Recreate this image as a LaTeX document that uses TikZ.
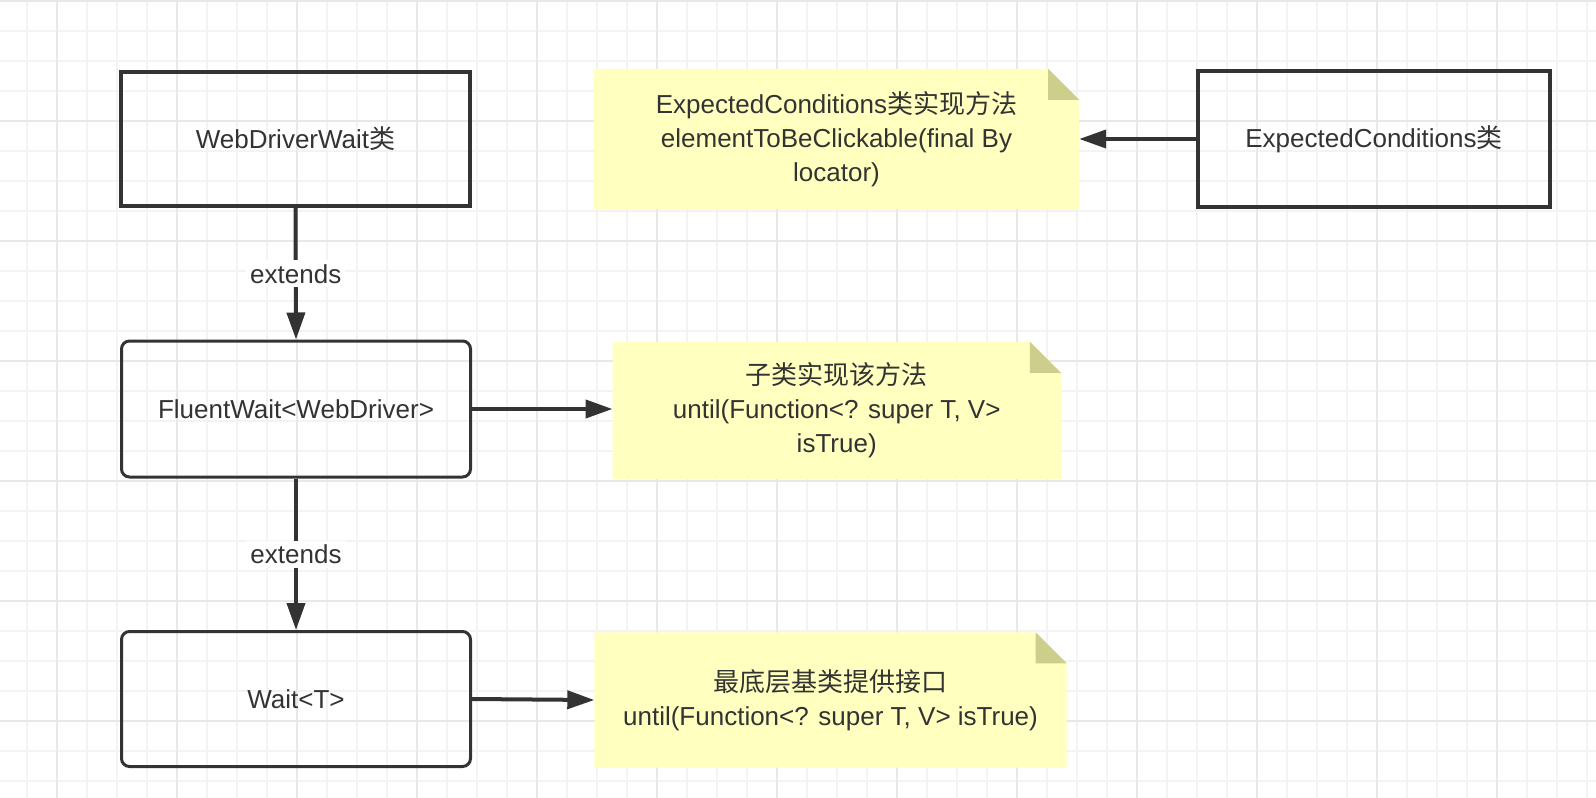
\documentclass[tikz,border=0pt]{standalone}
\usepackage{fontspec}
\setmainfont{Liberation Sans}
\newfontfamily\cjk{Noto Sans CJK SC}
\usetikzlibrary{arrows.meta,calc}
\definecolor{qqqqqq}{HTML}{333333}
\definecolor{ffffcc}{HTML}{FFFFC0}
\definecolor{cdcd8c}{HTML}{CDCD8C}
\definecolor{fofofo}{HTML}{F3F3F3}
\definecolor{eaeaea}{HTML}{E8E8E8}
\pgfdeclarelayer{bg}
\pgfsetlayers{bg,main}
\tikzset{
  classbox/.style={draw=qqqqqq,line width=4pt,minimum width=349pt,minimum height=134pt,
    text=qqqqqq,font=\fontsize{26}{34}\selectfont},
  roundbox/.style={classbox,line width=3pt,rounded corners=8pt},
  notebox/.style={text=qqqqqq,align=center,font=\fontsize{26}{34}\selectfont},
  link/.style={draw=qqqqqq,line width=4pt,-{Triangle[length=27pt,width=18pt]}},
  linklabel/.style={fill=white,text=qqqqqq,inner sep=4pt,font=\fontsize{26}{34}\selectfont},
}
% sticky note fill with folded corner
\newcommand{\notefill}[1]{%
  \fill[ffffcc] (#1.south west) -- (#1.north west) -- ($(#1.north east)+(-31,0)$)
    -- ($(#1.north east)+(0,31)$) -- (#1.south east) -- cycle;
  \fill[cdcd8c] ($(#1.north east)+(-31,0)$) -- ($(#1.north east)+(-31,31)$)
    -- ($(#1.north east)+(0,31)$) -- cycle;}

\begin{document}
\begin{tikzpicture}[line cap=butt,line join=miter,x=1pt,y=-1pt]
\useasboundingbox (0,0) rectangle (1596,798);

% classes
\node[classbox] (wdw) at (295.5,139) {WebDriverWait{\cjk 类}};
\node[classbox,minimum width=352pt,minimum height=136pt] (ec) at (1374,139) {ExpectedConditions{\cjk 类}};
\node[roundbox,minimum height=136pt] (fw) at (296,409) {FluentWait<WebDriver>};
\node[roundbox,minimum height=135pt] (wt) at (296,699) {Wait<T>};

% notes
\node[notebox,minimum width=485pt,minimum height=140pt] (n1) at (836.5,139)
  {ExpectedConditions{\cjk 类实现方法}\\elementToBeClickable(final By\\locator)};
\node[notebox,minimum width=448pt,minimum height=137pt] (n2) at (836.7,410.5)
  {{\cjk 子类实现该方法}\\until(Function<? super T, V>\\isTrue)};
\node[notebox,minimum width=472pt,minimum height=135pt] (n3) at (830.5,700)
  {{\cjk 最底层基类提供接口}\\until(Function<? super T, V> isTrue)};

\begin{pgfonlayer}{bg}
  \fill[white] (0,0) rectangle (1596,798);
  \foreach \x in {27,57,...,1596} \draw[fofofo,line width=1.5pt] (\x,0) -- (\x,798);
  \foreach \y in {1,31,...,798} \draw[fofofo,line width=1.5pt] (0,\y) -- (1596,\y);
  \foreach \x in {57,177,...,1596} \draw[eaeaea,line width=1.5pt] (\x,0) -- (\x,798);
  \foreach \y in {1,121,...,798} \draw[eaeaea,line width=1.5pt] (0,\y) -- (1596,\y);
  \notefill{n1}
  \notefill{n2}
  \notefill{n3}
\end{pgfonlayer}

% connectors
\draw[link] (wdw.south) -- (fw.north) node[midway,linklabel] {extends};
\draw[link] (fw.south) -- (wt.north) node[midway,linklabel] {extends};
\draw[link] (ec.west) -- (n1.east);
\draw[link] (fw.east) -- (fw.east -| n2.west);
\draw[link] (wt.east) -- (n3.west);
\end{tikzpicture}
\end{document}
